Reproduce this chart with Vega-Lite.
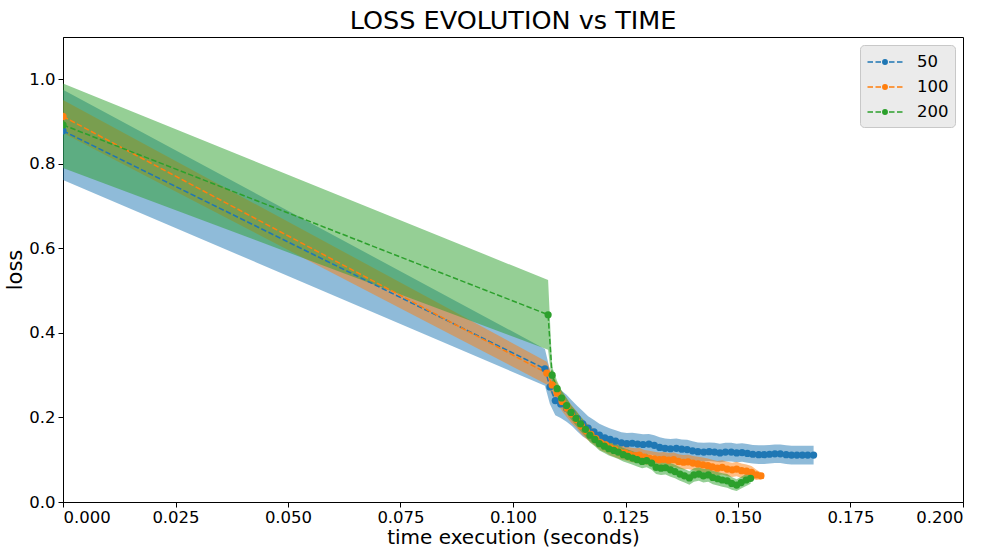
{
  "$schema": "https://vega.github.io/schema/vega-lite/v6.json",
  "width": 900,
  "height": 465,
  "autosize": {"type": "none"},
  "padding": {"left": 63, "top": 37, "right": 25, "bottom": 46},
  "background": "white",
  "title": {"text": "LOSS EVOLUTION vs TIME", "fontSize": 25.5, "font": "DejaVu Sans", "fontWeight": "normal", "color": "black", "offset": 3},
  "config": {
    "font": "DejaVu Sans",
    "view": {"stroke": "black", "strokeWidth": 1},
    "axis": {"domainColor": "black", "tickColor": "black", "labelColor": "black", "titleColor": "black", "grid": false, "labelFontSize": 16.5, "titleFontSize": 21, "titleFontWeight": "normal", "tickSize": 5, "labelPadding": 3, "domainWidth": 1, "tickWidth": 1, "labelFont": "DejaVu Sans", "titleFont": "DejaVu Sans"}
  },
  "data": {"values": [
    {"s":"50","t":0,"y":0.878,"lo":0.762,"hi":0.975},
    {"s":"50","t":0.1071,"y":0.315,"lo":0.275,"hi":0.362},
    {"s":"50","t":0.1082,"y":0.272,"lo":0.232,"hi":0.312},
    {"s":"50","t":0.1094,"y":0.240,"lo":0.205,"hi":0.275},
    {"s":"50","t":0.1106,"y":0.232,"lo":0.199,"hi":0.265},
    {"s":"50","t":0.1119,"y":0.222,"lo":0.190,"hi":0.254},
    {"s":"50","t":0.1131,"y":0.210,"lo":0.180,"hi":0.240},
    {"s":"50","t":0.1143,"y":0.197,"lo":0.167,"hi":0.227},
    {"s":"50","t":0.1155,"y":0.185,"lo":0.155,"hi":0.215},
    {"s":"50","t":0.1167,"y":0.175,"lo":0.147,"hi":0.203},
    {"s":"50","t":0.1180,"y":0.166,"lo":0.138,"hi":0.194},
    {"s":"50","t":0.1192,"y":0.158,"lo":0.131,"hi":0.185},
    {"s":"50","t":0.1204,"y":0.152,"lo":0.125,"hi":0.179},
    {"s":"50","t":0.1216,"y":0.148,"lo":0.122,"hi":0.174},
    {"s":"50","t":0.1228,"y":0.144,"lo":0.118,"hi":0.170},
    {"s":"50","t":0.1241,"y":0.140,"lo":0.115,"hi":0.165},
    {"s":"50","t":0.1253,"y":0.138,"lo":0.113,"hi":0.163},
    {"s":"50","t":0.1265,"y":0.139,"lo":0.114,"hi":0.164},
    {"s":"50","t":0.1277,"y":0.137,"lo":0.112,"hi":0.162},
    {"s":"50","t":0.1289,"y":0.136,"lo":0.112,"hi":0.160},
    {"s":"50","t":0.1302,"y":0.137,"lo":0.113,"hi":0.161},
    {"s":"50","t":0.1314,"y":0.134,"lo":0.110,"hi":0.158},
    {"s":"50","t":0.1326,"y":0.129,"lo":0.105,"hi":0.153},
    {"s":"50","t":0.1338,"y":0.127,"lo":0.104,"hi":0.150},
    {"s":"50","t":0.1350,"y":0.126,"lo":0.103,"hi":0.149},
    {"s":"50","t":0.1363,"y":0.127,"lo":0.104,"hi":0.150},
    {"s":"50","t":0.1375,"y":0.125,"lo":0.102,"hi":0.148},
    {"s":"50","t":0.1387,"y":0.124,"lo":0.101,"hi":0.147},
    {"s":"50","t":0.1399,"y":0.121,"lo":0.098,"hi":0.144},
    {"s":"50","t":0.1411,"y":0.119,"lo":0.097,"hi":0.141},
    {"s":"50","t":0.1424,"y":0.118,"lo":0.096,"hi":0.140},
    {"s":"50","t":0.1436,"y":0.119,"lo":0.097,"hi":0.141},
    {"s":"50","t":0.1448,"y":0.118,"lo":0.096,"hi":0.140},
    {"s":"50","t":0.1460,"y":0.116,"lo":0.094,"hi":0.138},
    {"s":"50","t":0.1472,"y":0.118,"lo":0.096,"hi":0.140},
    {"s":"50","t":0.1485,"y":0.118,"lo":0.096,"hi":0.140},
    {"s":"50","t":0.1497,"y":0.116,"lo":0.094,"hi":0.138},
    {"s":"50","t":0.1509,"y":0.117,"lo":0.095,"hi":0.139},
    {"s":"50","t":0.1521,"y":0.115,"lo":0.093,"hi":0.137},
    {"s":"50","t":0.1533,"y":0.113,"lo":0.091,"hi":0.135},
    {"s":"50","t":0.1546,"y":0.112,"lo":0.090,"hi":0.134},
    {"s":"50","t":0.1558,"y":0.112,"lo":0.090,"hi":0.134},
    {"s":"50","t":0.1570,"y":0.113,"lo":0.091,"hi":0.135},
    {"s":"50","t":0.1582,"y":0.114,"lo":0.092,"hi":0.136},
    {"s":"50","t":0.1594,"y":0.114,"lo":0.092,"hi":0.136},
    {"s":"50","t":0.1607,"y":0.112,"lo":0.090,"hi":0.134},
    {"s":"50","t":0.1619,"y":0.111,"lo":0.089,"hi":0.133},
    {"s":"50","t":0.1631,"y":0.111,"lo":0.089,"hi":0.133},
    {"s":"50","t":0.1643,"y":0.111,"lo":0.089,"hi":0.133},
    {"s":"50","t":0.1655,"y":0.111,"lo":0.089,"hi":0.133},
    {"s":"50","t":0.1668,"y":0.111,"lo":0.089,"hi":0.133},
    {"s":"100","t":0,"y":0.912,"lo":0.873,"hi":0.951},
    {"s":"100","t":0.1075,"y":0.305,"lo":0.278,"hi":0.332},
    {"s":"100","t":0.1087,"y":0.277,"lo":0.252,"hi":0.302},
    {"s":"100","t":0.1098,"y":0.258,"lo":0.234,"hi":0.282},
    {"s":"100","t":0.1109,"y":0.238,"lo":0.215,"hi":0.261},
    {"s":"100","t":0.1120,"y":0.222,"lo":0.200,"hi":0.244},
    {"s":"100","t":0.1130,"y":0.208,"lo":0.187,"hi":0.229},
    {"s":"100","t":0.1141,"y":0.195,"lo":0.175,"hi":0.215},
    {"s":"100","t":0.1152,"y":0.180,"lo":0.160,"hi":0.200},
    {"s":"100","t":0.1163,"y":0.168,"lo":0.149,"hi":0.187},
    {"s":"100","t":0.1173,"y":0.160,"lo":0.141,"hi":0.179},
    {"s":"100","t":0.1184,"y":0.150,"lo":0.132,"hi":0.168},
    {"s":"100","t":0.1195,"y":0.140,"lo":0.122,"hi":0.158},
    {"s":"100","t":0.1206,"y":0.135,"lo":0.117,"hi":0.153},
    {"s":"100","t":0.1217,"y":0.128,"lo":0.110,"hi":0.146},
    {"s":"100","t":0.1227,"y":0.124,"lo":0.106,"hi":0.142},
    {"s":"100","t":0.1238,"y":0.118,"lo":0.101,"hi":0.135},
    {"s":"100","t":0.1249,"y":0.116,"lo":0.099,"hi":0.133},
    {"s":"100","t":0.1260,"y":0.112,"lo":0.095,"hi":0.129},
    {"s":"100","t":0.1271,"y":0.110,"lo":0.093,"hi":0.127},
    {"s":"100","t":0.1281,"y":0.111,"lo":0.094,"hi":0.128},
    {"s":"100","t":0.1292,"y":0.106,"lo":0.089,"hi":0.123},
    {"s":"100","t":0.1303,"y":0.104,"lo":0.087,"hi":0.121},
    {"s":"100","t":0.1314,"y":0.102,"lo":0.085,"hi":0.119},
    {"s":"100","t":0.1325,"y":0.100,"lo":0.083,"hi":0.117},
    {"s":"100","t":0.1335,"y":0.101,"lo":0.084,"hi":0.118},
    {"s":"100","t":0.1346,"y":0.099,"lo":0.082,"hi":0.116},
    {"s":"100","t":0.1357,"y":0.100,"lo":0.083,"hi":0.117},
    {"s":"100","t":0.1368,"y":0.096,"lo":0.079,"hi":0.113},
    {"s":"100","t":0.1379,"y":0.094,"lo":0.077,"hi":0.111},
    {"s":"100","t":0.1389,"y":0.095,"lo":0.078,"hi":0.112},
    {"s":"100","t":0.1400,"y":0.092,"lo":0.075,"hi":0.109},
    {"s":"100","t":0.1411,"y":0.090,"lo":0.073,"hi":0.107},
    {"s":"100","t":0.1422,"y":0.088,"lo":0.071,"hi":0.105},
    {"s":"100","t":0.1433,"y":0.086,"lo":0.069,"hi":0.103},
    {"s":"100","t":0.1443,"y":0.083,"lo":0.066,"hi":0.100},
    {"s":"100","t":0.1454,"y":0.080,"lo":0.063,"hi":0.097},
    {"s":"100","t":0.1465,"y":0.082,"lo":0.065,"hi":0.099},
    {"s":"100","t":0.1476,"y":0.078,"lo":0.061,"hi":0.095},
    {"s":"100","t":0.1487,"y":0.076,"lo":0.059,"hi":0.093},
    {"s":"100","t":0.1497,"y":0.078,"lo":0.061,"hi":0.095},
    {"s":"100","t":0.1508,"y":0.074,"lo":0.057,"hi":0.091},
    {"s":"100","t":0.1519,"y":0.073,"lo":0.057,"hi":0.089},
    {"s":"100","t":0.1530,"y":0.070,"lo":0.055,"hi":0.085},
    {"s":"100","t":0.1541,"y":0.064,"lo":0.052,"hi":0.076},
    {"s":"100","t":0.1551,"y":0.062,"lo":0.054,"hi":0.070},
    {"s":"200","t":0,"y":0.892,"lo":0.790,"hi":0.990},
    {"s":"200","t":0.1078,"y":0.443,"lo":0.360,"hi":0.525},
    {"s":"200","t":0.1087,"y":0.300,"lo":0.280,"hi":0.320},
    {"s":"200","t":0.1098,"y":0.268,"lo":0.250,"hi":0.286},
    {"s":"200","t":0.1108,"y":0.246,"lo":0.228,"hi":0.264},
    {"s":"200","t":0.1119,"y":0.228,"lo":0.210,"hi":0.246},
    {"s":"200","t":0.1129,"y":0.212,"lo":0.195,"hi":0.229},
    {"s":"200","t":0.1140,"y":0.198,"lo":0.181,"hi":0.215},
    {"s":"200","t":0.1150,"y":0.185,"lo":0.168,"hi":0.202},
    {"s":"200","t":0.1161,"y":0.172,"lo":0.155,"hi":0.189},
    {"s":"200","t":0.1171,"y":0.158,"lo":0.141,"hi":0.175},
    {"s":"200","t":0.1182,"y":0.148,"lo":0.132,"hi":0.164},
    {"s":"200","t":0.1192,"y":0.138,"lo":0.122,"hi":0.154},
    {"s":"200","t":0.1203,"y":0.132,"lo":0.116,"hi":0.148},
    {"s":"200","t":0.1213,"y":0.126,"lo":0.110,"hi":0.142},
    {"s":"200","t":0.1224,"y":0.122,"lo":0.106,"hi":0.138},
    {"s":"200","t":0.1234,"y":0.118,"lo":0.102,"hi":0.134},
    {"s":"200","t":0.1245,"y":0.112,"lo":0.096,"hi":0.128},
    {"s":"200","t":0.1255,"y":0.108,"lo":0.092,"hi":0.124},
    {"s":"200","t":0.1266,"y":0.104,"lo":0.088,"hi":0.120},
    {"s":"200","t":0.1276,"y":0.100,"lo":0.084,"hi":0.116},
    {"s":"200","t":0.1287,"y":0.096,"lo":0.080,"hi":0.112},
    {"s":"200","t":0.1297,"y":0.098,"lo":0.082,"hi":0.114},
    {"s":"200","t":0.1308,"y":0.092,"lo":0.076,"hi":0.108},
    {"s":"200","t":0.1318,"y":0.082,"lo":0.066,"hi":0.098},
    {"s":"200","t":0.1329,"y":0.080,"lo":0.064,"hi":0.096},
    {"s":"200","t":0.1339,"y":0.081,"lo":0.065,"hi":0.097},
    {"s":"200","t":0.1350,"y":0.076,"lo":0.060,"hi":0.092},
    {"s":"200","t":0.1360,"y":0.072,"lo":0.056,"hi":0.088},
    {"s":"200","t":0.1371,"y":0.066,"lo":0.050,"hi":0.082},
    {"s":"200","t":0.1381,"y":0.062,"lo":0.046,"hi":0.078},
    {"s":"200","t":0.1392,"y":0.057,"lo":0.041,"hi":0.073},
    {"s":"200","t":0.1402,"y":0.064,"lo":0.048,"hi":0.080},
    {"s":"200","t":0.1413,"y":0.066,"lo":0.050,"hi":0.082},
    {"s":"200","t":0.1423,"y":0.062,"lo":0.046,"hi":0.078},
    {"s":"200","t":0.1434,"y":0.064,"lo":0.048,"hi":0.080},
    {"s":"200","t":0.1444,"y":0.058,"lo":0.042,"hi":0.074},
    {"s":"200","t":0.1455,"y":0.055,"lo":0.039,"hi":0.071},
    {"s":"200","t":0.1465,"y":0.052,"lo":0.036,"hi":0.068},
    {"s":"200","t":0.1476,"y":0.050,"lo":0.034,"hi":0.066},
    {"s":"200","t":0.1486,"y":0.044,"lo":0.029,"hi":0.059},
    {"s":"200","t":0.1497,"y":0.040,"lo":0.026,"hi":0.054},
    {"s":"200","t":0.1507,"y":0.046,"lo":0.032,"hi":0.060},
    {"s":"200","t":0.1518,"y":0.052,"lo":0.038,"hi":0.066},
    {"s":"200","t":0.1528,"y":0.056,"lo":0.043,"hi":0.069}
  ]},
  "layer": [
    {
      "mark": {"type": "area", "opacity": 0.5, "clip": true},
      "encoding": {
        "x": {"field": "t", "type": "quantitative", "scale": {"domain": [0, 0.2], "nice": false}, "axis": {"title": "time execution (seconds)", "values": [0, 0.025, 0.05, 0.075, 0.1, 0.125, 0.15, 0.175, 0.2], "format": ".3f", "titlePadding": 2, "labelPadding": 2, "titleFontSize": 20}},
        "y": {"field": "lo", "type": "quantitative", "scale": {"domain": [0, 1.1], "nice": false}, "axis": {"title": "loss", "values": [0, 0.2, 0.4, 0.6, 0.8, 1.0], "format": ".1f", "titlePadding": 3}},
        "y2": {"field": "hi"},
        "color": {"field": "s", "type": "nominal", "scale": {"domain": ["50", "100", "200"], "range": ["#1f77b4", "#ff7f0e", "#2ca02c"]},
          "legend": {"title": null, "orient": "top-right", "offset": 8, "padding": 6, "fillColor": "#ebebeb", "strokeColor": "#c8c8c8", "cornerRadius": 4, "labelFontSize": 16.5, "labelFont": "DejaVu Sans", "labelColor": "black",
            "symbolType": "M-1.75,0L-1.2,0M-0.95,0L-0.4,0M-0.15,0L0.15,0M0.4,0L0.95,0M1.2,0L1.75,0M-0.22,0A0.22,0.22,0,1,1,0.22,0A0.22,0.22,0,1,1,-0.22,0Z",
            "symbolSize": 400, "symbolStrokeWidth": 1.5, "symbolOffset": 8, "labelOffset": 21, "rowPadding": 5, "symbolOpacity": 1,
            "encode": {"symbols": {"update": {"fill": {"scale": "color", "field": "value"}, "stroke": {"scale": "color", "field": "value"}, "opacity": {"value": 1}, "fillOpacity": {"value": 1}, "strokeOpacity": {"value": 1}}}}}}
      }
    },
    {
      "mark": {"type": "line", "strokeDash": [5.5, 2.4], "strokeWidth": 1.5, "clip": true},
      "encoding": {
        "x": {"field": "t", "type": "quantitative"},
        "y": {"field": "y", "type": "quantitative"},
        "color": {"field": "s", "type": "nominal"}
      }
    },
    {
      "mark": {"type": "point", "filled": true, "size": 52, "opacity": 1, "clip": true},
      "encoding": {
        "x": {"field": "t", "type": "quantitative"},
        "y": {"field": "y", "type": "quantitative"},
        "color": {"field": "s", "type": "nominal"}
      }
    }
  ]
}
